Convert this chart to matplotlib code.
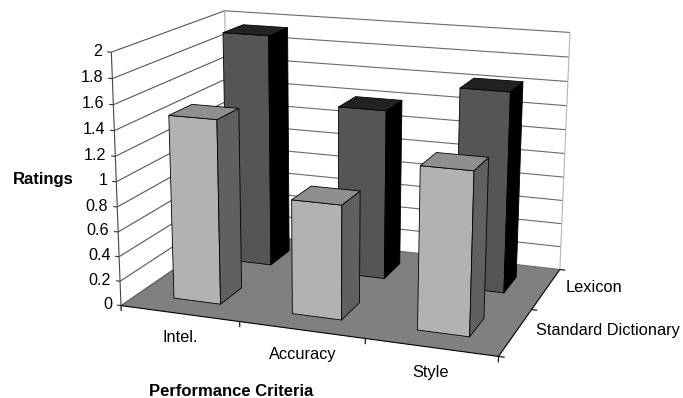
import numpy as np
import matplotlib
matplotlib.use("Agg")
import matplotlib.pyplot as plt
from mpl_toolkits.mplot3d.art3d import Poly3DCollection, Line3DCollection

plt.rcParams['font.family'] = ['Liberation Sans', 'DejaVu Sans']

# Chart data
criteria = ["Intel.", "Accuracy", "Style"]
series_names = ["Standard Dictionary", "Lexicon"]
standard_dictionary = [1.48, 0.91, 1.27]
lexicon = [1.95, 1.41, 1.64]
rating_ticks = [0, 0.2, 0.4, 0.6, 0.8, 1, 1.2, 1.4, 1.6, 1.8, 2]
rating_labels = ["0", "0.2", "0.4", "0.6", "0.8", "1", "1.2", "1.4", "1.6", "1.8", "2"]

W, H = 683, 398
fig = plt.figure(figsize=(W / 100, H / 100), dpi=100)
ax = fig.add_axes([0, 0, 1, 1], projection="3d")
ax.apply_aspect = lambda position=None: None
ax.set_axis_off()
ax.computed_zorder = False

# Camera: a pinhole projection solved from where the box corners sit on the canvas
anchors = [
    ((0, 0, 0), (122, 306)), ((3, 0, 0), (498, 357)),
    ((3, 2, 0), (560, 269)), ((0, 2, 0), (228, 232)),
    ((0, 0, 2), (111, 52)), ((3, 2, 2), (570, 33)),
    ((0, 2, 2), (225, 11)), ((0, 0, 1), (116, 181)),
    ((3, 2, 1), (565, 153)),
]
rows = []
for (x, y, z), (u, v) in anchors:
    rows.append([x, y, z, 1, 0, 0, 0, 0, -u * x, -u * y, -u * z, -u])
    rows.append([0, 0, 0, 0, x, y, z, 1, -v * x, -v * y, -v * z, -v])
camera = np.linalg.svd(np.array(rows, float))[2][-1].reshape(3, 4)
if camera[2, 3] < 0:
    camera = -camera

# Canvas pixels (origin top-left) to the 2D coordinates of the axes
to_display = np.array([[1, 0, 0], [0, -1, H], [0, 0, 1]], float)
to_axes = ax.transData.inverted().get_matrix() @ to_display
plane = to_axes @ camera
depth = np.linalg.svd(plane)[2][-1]
projection = np.vstack([plane[0], plane[1], depth, plane[2]])
ax.get_proj = lambda: projection


def face(corners, color, order, edge="black", lw=0.6):
    poly = Poly3DCollection([corners], facecolors=color, edgecolors=edge,
                            linewidths=lw, zorder=order, shade=False)
    ax.add_collection3d(poly)


def segments(pairs, color, lw, order):
    lines = Line3DCollection(pairs, colors=color, linewidths=lw, zorder=order)
    ax.add_collection3d(lines)


def label(px, py, text, ha="left", bold=False, size=11.8):
    fig.text(px / W, 1 - py / H, text, ha=ha, va="center", fontsize=size,
             fontweight="bold" if bold else "normal", color="black")


# Floor
face([(0, 0, 0), (3, 0, 0), (3, 2, 0), (0, 2, 0)], "#808080", 1, edge="none", lw=0)

# Wall gridlines, then the wall edges
segments([[(0, 0, z), (0, 2, z)] for z in rating_ticks], "#555555", 0.8, 2)
segments([[(0, 2, z), (3, 2, z)] for z in rating_ticks], "#6a6a6a", 0.8, 2)
segments([[(0, 2, 0), (0, 2, 2)]], "#a8a8a8", 0.8, 2)
segments([[(3, 2, 0), (3, 2, 2)]], "#b4b4b4", 0.8, 2)

# Axes and tick marks
segments([[(0, 0, 0), (0, 0, 2)]], "#444444", 0.8, 3)
segments([[(0, 0, 0), (3, 0, 0)], [(3, 0, 0), (3, 2, 0)]], "black", 0.8, 3)
segments([[(-0.035, 0, z), (0, 0, z)] for z in rating_ticks], "#333333", 0.8, 3)
segments([[(x, 0, 0), (x, 0, -0.045)] for x in range(4)], "black", 0.8, 3)
segments([[(3, y, 0), (3.045, y, 0)] for y in range(3)], "black", 0.8, 3)

# Rating labels sit just left of their ticks, placed through the camera
for z, tick in zip(rating_ticks, rating_labels):
    u, v, w = camera @ np.array([-0.075, 0, z, 1])
    label(u / w, v / w, tick, ha="right", size=11.6)

# Bars, back row first so the front row covers it
bar_width = 0.4
bar_depth = 0.4
rows_of_bars = [
    (1.5, lexicon, ("#555555", "#000000", "#222222")),
    (0.5, standard_dictionary, ("#b2b2b2", "#606060", "#8f8f8f")),
]
order = 10
for row, values, (front, side, top) in rows_of_bars:
    for i, value in enumerate(values):
        x0, x1 = i + 0.5 - bar_width / 2, i + 0.5 + bar_width / 2
        y0, y1 = row - bar_depth / 2, row + bar_depth / 2
        face([(x0, y0, 0), (x1, y0, 0), (x1, y0, value), (x0, y0, value)], front, order)
        face([(x1, y0, 0), (x1, y1, 0), (x1, y1, value), (x1, y0, value)], side, order + 1)
        face([(x0, y0, value), (x1, y0, value), (x1, y1, value), (x0, y1, value)], top, order + 2)
        order += 3

for px, py, name in zip((180, 303, 431), (338, 354, 372), criteria):
    label(px, py, name, ha="center")
label(536, 331, series_names[0])
label(566, 288, series_names[1])
label(13, 180, "Ratings", bold=True, size=12)
label(149, 391, "Performance Criteria", bold=True, size=12)

fig.savefig("out.png", dpi=100)
